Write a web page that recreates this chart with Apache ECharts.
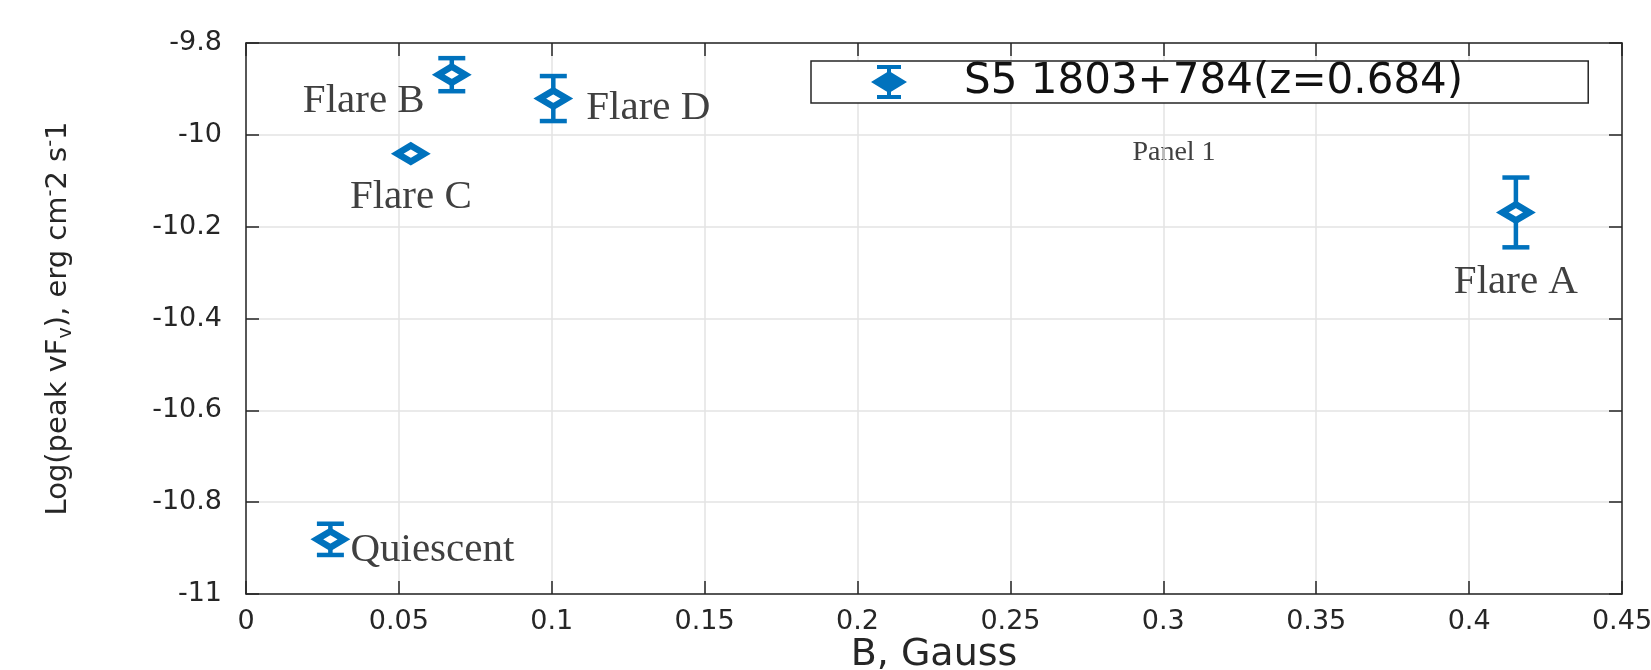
<!DOCTYPE html>
<html>
<head>
<meta charset="utf-8">
<title>Peak flux vs B</title>
<script src="https://cdn.jsdelivr.net/npm/echarts@6/dist/echarts.min.js"></script>
<style>
  html, body { margin: 0; padding: 0; background: #fff; }
  #main { width: 1651px; height: 670px; }
</style>
</head>
<body>
<div id="main"></div>
<script>
// data
const stateNames = ['Quiescent', 'Flare C', 'Flare B', 'Flare D', 'Flare A'];
const bGauss = [0.0276, 0.0539, 0.0673, 0.1005, 0.4153];
const logPeak = [-10.881, -10.041, -9.869, -9.921, -10.169];
const logPeakErr = [0.034, 0, 0.036, 0.049, 0.076];

const xMin = 0, xMax = 0.45, xStep = 0.05;
const yMin = -11, yMax = -9.8, yStep = 0.2;

const seriesName = 'S5 1803+784(z=0.684)';
const blue = '#0072BD';
const ink = '#262626';
const sans = 'DejaVu Sans';
const serif = 'Liberation Serif';

// where each annotation sits relative to its point
const labelPlace = {
  'Quiescent': { align: 'left', offset: [20, 11] },
  'Flare C': { align: 'center', offset: [0, 44] },
  'Flare B': { align: 'center', offset: [-88, 27] },
  'Flare D': { align: 'left', offset: [33, 10] },
  'Flare A': { align: 'center', offset: [0, 70] }
};

const points = stateNames.map((n, i) => ({
  name: n,
  value: [bGauss[i], logPeak[i]],
  label: labelPlace[n]
}));
const bars = stateNames.map((n, i) => [bGauss[i], logPeak[i], logPeakErr[i]]);

// error bar + diamond icon for the legend
const legendIcon = 'path://M6 0H30V4H20V30H30V34H6V30H16V4H6Z M18 6L36 17L18 28L0 17Z';

function errorBar (params, api) {
  const x = api.value(0);
  const y = api.value(1);
  const e = api.value(2);
  if (!e) return null;
  const top = api.coord([x, y + e]);
  const bot = api.coord([x, y - e]);
  const hw = 13.5;
  const style = { stroke: blue, lineWidth: 4.5 };
  return {
    type: 'group',
    children: [
      { type: 'line', shape: { x1: top[0], y1: top[1], x2: bot[0], y2: bot[1] }, style },
      { type: 'line', shape: { x1: top[0] - hw, y1: top[1], x2: top[0] + hw, y2: top[1] }, style },
      { type: 'line', shape: { x1: bot[0] - hw, y1: bot[1], x2: bot[0] + hw, y2: bot[1] }, style }
    ]
  };
}

const frameAxis = {
  axisLine: { show: true, onZero: false, lineStyle: { color: ink, width: 1.5 } },
  axisTick: { show: true, inside: true, length: 13, lineStyle: { color: ink, width: 1.5 } }
};

const myChart = echarts.init(document.getElementById('main'));
myChart.setOption({
  animation: false,
  backgroundColor: '#fff',
  grid: { left: 246, right: 29, top: 43, bottom: 76, outerBoundsMode: 'none' },
  legend: {
    left: 811,
    top: 61,
    padding: [0, 125, 0, 60],
    backgroundColor: '#fff',
    borderColor: ink,
    borderWidth: 1.5,
    borderRadius: 0,
    itemWidth: 36,
    itemHeight: 34,
    selectedMode: false,
    data: [{ name: seriesName, icon: legendIcon, itemStyle: { color: blue, borderWidth: 0 } }],
    formatter: n => '{gap|}{t|' + n + '}',
    textStyle: {
      rich: {
        gap: { width: 52 },
        t: { fontFamily: sans, fontSize: 42, color: '#111' }
      }
    }
  },
  graphic: [{
    type: 'text',
    x: 1174,
    y: 153,
    style: {
      text: 'Panel 1',
      fontFamily: serif,
      fontSize: 28,
      fill: '#404040',
      align: 'center',
      verticalAlign: 'middle'
    }
  }],
  xAxis: [
    Object.assign({
      type: 'value',
      min: xMin,
      max: xMax,
      interval: xStep,
      position: 'bottom',
      name: 'B, Gauss',
      nameLocation: 'middle',
      nameGap: 42,
      nameMoveOverlap: false,
      nameTextStyle: { fontFamily: sans, fontSize: 38, color: ink },
      axisLabel: {
        fontFamily: sans,
        fontSize: 27,
        color: ink,
        margin: 14,
        formatter: v => String(+v.toFixed(2))
      },
      splitLine: { show: true, lineStyle: { color: '#e3e3e3', width: 1.5 } }
    }, frameAxis),
    Object.assign({
      type: 'value',
      min: xMin,
      max: xMax,
      interval: xStep,
      position: 'top',
      axisLabel: { show: false },
      splitLine: { show: false }
    }, frameAxis)
  ],
  yAxis: [
    Object.assign({
      type: 'value',
      min: yMin,
      max: yMax,
      interval: yStep,
      position: 'left',
      name: '{m|Log(peak vF}{sub|v}{m|), erg cm}{sup|-}{m|2 s}{sup|-}{m|1}',
      nameLocation: 'middle',
      nameGap: 170,
      nameMoveOverlap: false,
      nameTextStyle: {
        fontFamily: sans,
        fontSize: 29,
        color: ink,
        rich: {
          m: { fontFamily: sans, fontSize: 29, color: ink },
          sub: { fontFamily: sans, fontSize: 19, color: ink, padding: [16, 0, 0, 0] },
          sup: { fontFamily: sans, fontSize: 19, color: ink, padding: [0, 0, 14, 0] }
        }
      },
      axisLabel: {
        fontFamily: sans,
        fontSize: 27,
        color: ink,
        margin: 24,
        formatter: v => String(+v.toFixed(1))
      },
      splitLine: { show: true, lineStyle: { color: '#e3e3e3', width: 1.5 } }
    }, frameAxis),
    Object.assign({
      type: 'value',
      min: yMin,
      max: yMax,
      interval: yStep,
      position: 'right',
      axisLabel: { show: false },
      splitLine: { show: false }
    }, frameAxis)
  ],
  series: [
    {
      name: 'error',
      type: 'custom',
      xAxisIndex: 0,
      yAxisIndex: 0,
      renderItem: errorBar,
      data: bars,
      z: 2,
      silent: true
    },
    {
      name: seriesName,
      type: 'scatter',
      xAxisIndex: 0,
      yAxisIndex: 0,
      symbol: 'diamond',
      symbolSize: [27, 16],
      itemStyle: { color: '#fff', borderColor: blue, borderWidth: 7, opacity: 1 },
      label: {
        show: true,
        position: 'inside',
        formatter: p => p.name,
        fontFamily: serif,
        fontSize: 41,
        color: '#404040'
      },
      data: points,
      z: 3
    }
  ]
});
</script>
</body>
</html>
